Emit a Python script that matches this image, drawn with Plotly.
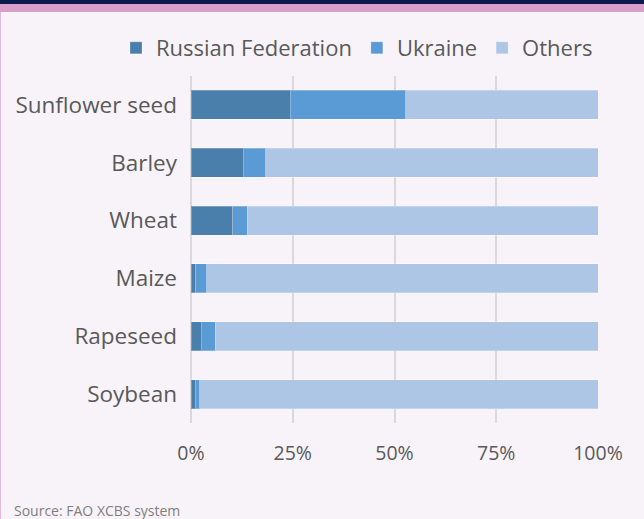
import plotly.graph_objects as go

categories = ["Sunflower seed", "Barley", "Wheat", "Maize", "Rapeseed", "Soybean"]
russia = [24.4, 12.8, 10.3, 1.2, 2.5, 1.0]
ukraine = [28.4, 5.6, 3.5, 2.7, 3.4, 1.2]
others = [round(100 - r - u, 1) for r, u in zip(russia, ukraine)]
tick_vals = [0, 25, 50, 75, 100]
tick_text = ["0%", "25%", "50%", "75%", "100%"]

W, H = 644, 519
L, R, T, B = 191, 46, 76, 96
pw, ph = W - L - R, H - T - B

def px_x(px):
    return (px - L) / pw

def px_y(py):
    return (H - B - py) / ph

FONT = "Open Sans"
TXT = "#595959"

fig = go.Figure()
for name, vals, col in [("Russian Federation", russia, "#4a7eab"),
                        ("Ukraine", ukraine, "#5b9bd5"),
                        ("Others", others, "#adc6e5")]:
    fig.add_trace(go.Bar(y=categories, x=vals, name=name, orientation="h",
                         marker=dict(color=col, line=dict(color="rgba(255,255,255,0.25)", width=1))))

fig.update_layout(
    width=W, height=H,
    margin=dict(l=L, r=R, t=T, b=B, pad=0, autoexpand=False),
    barmode="stack", bargap=0.5,
    paper_bgcolor="#f8f3f8", plot_bgcolor="#f8f3f8",
    font=dict(family=FONT, size=22, color=TXT),
    legend=dict(orientation="h", xref="paper", yref="paper",
                x=px_x(116), xanchor="left", y=px_y(48), yanchor="middle",
                font=dict(family=FONT, size=22, color=TXT), bgcolor="rgba(0,0,0,0)",
                traceorder="normal"),
    xaxis=dict(range=[0, 100], tickvals=tick_vals, ticktext=tick_text,
               showgrid=True, gridcolor="#d9d9d9", gridwidth=2,
               zeroline=True, zerolinecolor="#d9d9d9", zerolinewidth=2,
               showline=False, ticks="", ticklabelstandoff=16,
               tickfont=dict(family=FONT, size=19.5, color=TXT)),
    yaxis=dict(categoryorder="array", categoryarray=categories, autorange="reversed",
               showgrid=False, zeroline=False, showline=False, ticks="",
               ticklabelstandoff=13,
               tickfont=dict(family=FONT, size=22.5, color=TXT)),
    shapes=[
        dict(type="rect", xref="paper", yref="paper", x0=px_x(0), x1=px_x(W),
             y0=px_y(4), y1=px_y(0), fillcolor="#0c1a4b", line=dict(width=0), layer="above"),
        dict(type="rect", xref="paper", yref="paper", x0=px_x(0), x1=px_x(W),
             y0=px_y(12), y1=px_y(4), fillcolor="#d8a0c8", line=dict(width=0), layer="above"),
        dict(type="line", xref="paper", yref="paper", x0=px_x(0.5), x1=px_x(0.5),
             y0=px_y(H), y1=px_y(12), line=dict(color="#e4b8d8", width=1)),
    ],
    annotations=[
        dict(text="Source: FAO XCBS system", xref="paper", yref="paper",
             x=px_x(12), y=px_y(510), xanchor="left", yanchor="middle", showarrow=False,
             font=dict(family=FONT, size=14, color="#7f7f7f")),
    ],
)

fig.write_html("out.html", config={"displayModeBar": False},
               post_script="document.body.style.margin='0';document.body.style.padding='0';")
